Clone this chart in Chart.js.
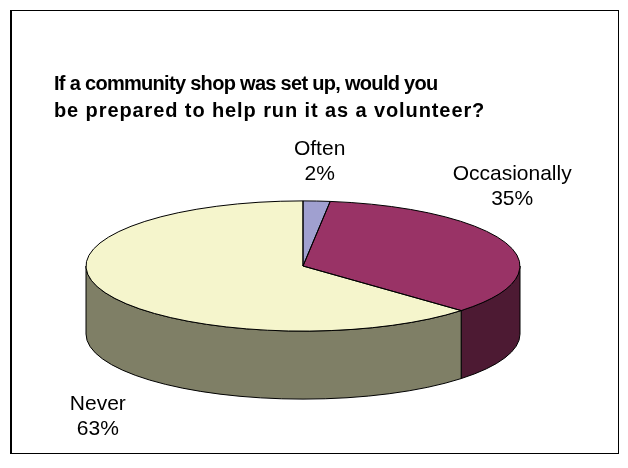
<!DOCTYPE html>
<html>
<head>
<meta charset="utf-8">
<title>Community shop volunteers</title>
<script src="https://cdn.jsdelivr.net/npm/chart.js@4.4.1/dist/chart.umd.min.js"></script>
<style>
  html, body { margin: 0; padding: 0; background: #fff; }
  #wrap { position: relative; width: 628px; height: 468px; overflow: hidden; }
  #frame { position: absolute; left: 10px; top: 10px; width: 606px; height: 442px;
           border: 1px solid #000; border-left-width: 2px; }
  #chart { position: absolute; left: 0; top: 0; }
</style>
</head>
<body>
<div id="wrap">
  <div id="frame"></div>
  <canvas id="chart" width="628" height="468"></canvas>
</div>
<script>
var titleLines = ['If a community shop was set up, would you', 'be prepared to help run it as a volunteer?'];
var categories = ['Often', 'Occasionally', 'Never'];
var percentages = [2, 35, 63];
var topColors = ['#a0a0d0', '#993366', '#f5f5cc'];
var sideColors = ['#50506a', '#4d1a33', '#7f7f66'];

// 3d look: vertical squash of the top face and height of the side wall
var TILT = 0.3;
var DEPTH = 68;
// label offset from the rim point at each slice's middle angle
var labelNudge = [[3, -46], [5, -64], [-6, 50]];
var LABEL_FONT = '21px "Liberation Sans", Arial, sans-serif';
var LABEL_LINE = 25;
var TITLE_FONT = 'bold 20px "Liberation Sans", Arial, sans-serif';
var titleSpacing = [-0.7, 0.9];

function rim(arc, angle, withDepth) {
  var ry = arc.outerRadius * TILT;
  var y = arc.y + ry * Math.sin(angle);
  if (withDepth && Math.sin(angle) > 0) y += DEPTH;
  return { x: arc.x + arc.outerRadius * Math.cos(angle), y: y };
}

var pie3d = {
  id: 'pie3d',
  beforeDatasetsDraw: function(chart) {
    var ctx = chart.ctx;
    var arcs = chart.getDatasetMeta(0).data;
    var cx = arcs[0].x, cy = arcs[0].y, rx = arcs[0].outerRadius, ry = rx * TILT;

    // side walls, only the front half can be seen
    arcs.forEach(function(arc, i) {
      var a0 = Math.max(arc.startAngle, 0);
      var a1 = Math.min(arc.endAngle, Math.PI);
      if (a1 <= a0) return;
      ctx.beginPath();
      ctx.ellipse(cx, cy, rx, ry, 0, a0, a1);
      ctx.lineTo(cx + rx * Math.cos(a1), cy + ry * Math.sin(a1) + DEPTH);
      ctx.ellipse(cx, cy + DEPTH, rx, ry, 0, a1, a0, true);
      ctx.closePath();
      ctx.fillStyle = sideColors[i];
      ctx.fill();
      ctx.lineWidth = 1;
      ctx.strokeStyle = '#000';
      ctx.stroke();
    });

    // squash the slices into an ellipse
    ctx.save();
    ctx.translate(cx, cy);
    ctx.scale(1, TILT);
    ctx.translate(-cx, -cy);
  },
  afterDatasetsDraw: function(chart) {
    var ctx = chart.ctx;
    ctx.restore();
    var arcs = chart.getDatasetMeta(0).data;
    var cx = arcs[0].x, cy = arcs[0].y, rx = arcs[0].outerRadius, ry = rx * TILT;

    // slice outlines on the top face
    ctx.lineWidth = 1;
    ctx.strokeStyle = '#000';
    arcs.forEach(function(arc) {
      ctx.beginPath();
      ctx.moveTo(cx, cy);
      ctx.ellipse(cx, cy, rx, ry, 0, arc.startAngle, arc.endAngle);
      ctx.closePath();
      ctx.stroke();
    });

    // category + percent labels
    ctx.save();
    ctx.font = LABEL_FONT;
    ctx.fillStyle = '#000';
    ctx.textAlign = 'center';
    ctx.textBaseline = 'alphabetic';
    arcs.forEach(function(arc, i) {
      var mid = (arc.startAngle + arc.endAngle) / 2;
      var p = rim(arc, mid, true);
      var x = p.x + labelNudge[i][0];
      var y = p.y + labelNudge[i][1];
      ctx.fillText(categories[i], x, y);
      ctx.fillText(percentages[i] + '%', x, y + LABEL_LINE);
    });
    ctx.restore();
  },
  afterDraw: function(chart) {
    // two line title, left aligned with the plot padding
    var ctx = chart.ctx;
    var left = chart.options.layout.padding.left;
    ctx.save();
    ctx.font = TITLE_FONT;
    ctx.fillStyle = '#000';
    ctx.textAlign = 'left';
    ctx.textBaseline = 'alphabetic';
    titleLines.forEach(function(line, i) {
      ctx.letterSpacing = titleSpacing[i] + 'px';
      ctx.fillText(line, left, 90 + i * 27);
    });
    ctx.restore();
  }
};

new Chart(document.getElementById('chart'), {
  type: 'pie',
  data: {
    labels: categories,
    datasets: [{
      data: percentages,
      backgroundColor: topColors,
      borderWidth: 0,
      hoverOffset: 0,
      radius: 217,
      clip: false
    }]
  },
  options: {
    responsive: false,
    animation: false,
    layout: { padding: { top: 130, left: 54, right: 76, bottom: 66 } },
    plugins: {
      legend: { display: false },
      tooltip: { enabled: false },
      title: { display: false }
    }
  },
  plugins: [pie3d]
});
</script>
</body>
</html>
